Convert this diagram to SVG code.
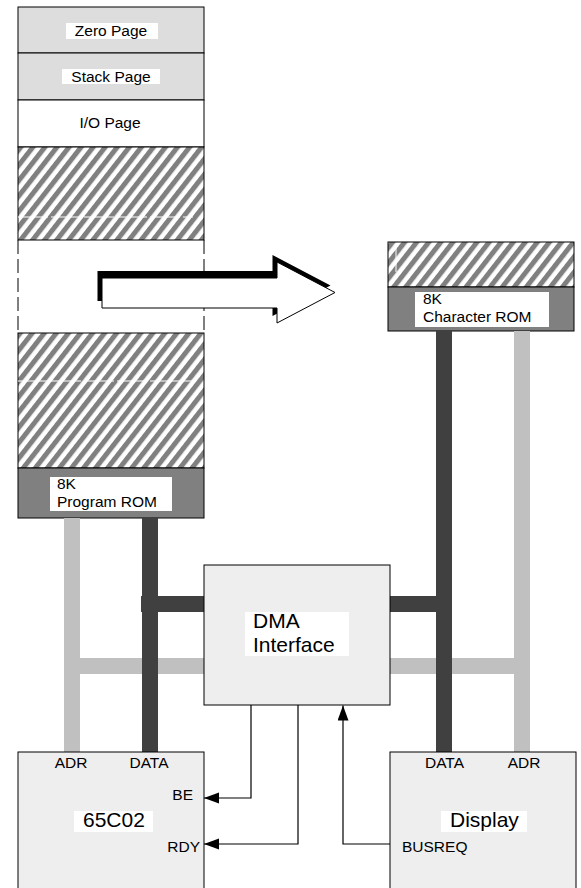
<svg xmlns="http://www.w3.org/2000/svg" width="581" height="888" viewBox="0 0 581 888">
<defs>
  <pattern id="hatch" patternUnits="userSpaceOnUse" width="9.5" height="20" patternTransform="rotate(38)">
    <rect x="0" y="0" width="9.5" height="20" fill="#ffffff"/>
    <rect x="0" y="0" width="5" height="20" fill="#808080"/>
  </pattern>
  <marker id="arr" markerUnits="userSpaceOnUse" markerWidth="16" markerHeight="12" refX="15" refY="5.5" orient="auto">
    <path d="M0,0 L15,5.5 L0,11 Z" fill="#000"/>
  </marker>
</defs>
<style>
  text { font-family: "Liberation Sans", Arial, sans-serif; fill: #000; }
  .s { font-size: 15.5px; }
  .b { font-size: 21px; }
  .box { stroke: #000; stroke-width: 1; }
  .lbl { fill: #fff; }
  .light { fill: #c0c0c0; }
  .dark { fill: #404040; }
  .wire { fill: none; stroke: #000; stroke-width: 1.2; }
</style>

<g id="memory-map">
  <rect class="box" x="18" y="7" width="186" height="46" fill="#dddddd"/>
  <rect class="lbl" x="66" y="23" width="92" height="16"/>
  <text class="s" x="111" y="36" text-anchor="middle">Zero Page</text>
  <rect class="box" x="18" y="53" width="186" height="47" fill="#dddddd"/>
  <rect class="lbl" x="62" y="69" width="98" height="15"/>
  <text class="s" x="111" y="82" text-anchor="middle">Stack Page</text>
  <rect class="box" x="18" y="100" width="186" height="47" fill="#ffffff"/>
  <text class="s" x="110" y="128" text-anchor="middle">I/O Page</text>
  <rect class="box" x="18" y="147" width="186" height="93" fill="url(#hatch)"/>
  <line x1="18" y1="217" x2="193" y2="217" stroke="#fff" stroke-width="1" stroke-dasharray="30 3"/>
  <line x1="18" y1="240" x2="18" y2="333" stroke="#000" stroke-width="1" stroke-dasharray="14 5"/>
  <line x1="204" y1="240" x2="204" y2="333" stroke="#000" stroke-width="1" stroke-dasharray="14 5"/>
  <rect class="box" x="18" y="333" width="186" height="135" fill="url(#hatch)"/>
  <line x1="18" y1="381" x2="193" y2="381" stroke="#fff" stroke-width="1" stroke-dasharray="30 3"/>
  <rect class="box" x="18" y="468" width="186" height="50" fill="#808080"/>
  <rect class="lbl" x="50" y="477" width="122" height="34"/>
  <text class="s" x="57" y="489">8K</text>
  <text class="s" x="57" y="507">Program ROM</text>
</g>

<g id="copy-arrow">
  <path d="M102,278 H277 V262 L335,292.5 L277,323 V308 H102 Z" fill="#000" transform="translate(-4.5,-7)"/>
  <path d="M102,278 H277 V262 L335,292.5 L277,323 V308 H102 Z" fill="#fff" stroke="#000" stroke-width="1"/>
</g>

<g id="character-rom">
  <rect class="box" x="388" y="242" width="186" height="45" fill="url(#hatch)"/>
  <line x1="396" y1="248" x2="396" y2="272" stroke="#fff" stroke-width="1"/>
  <rect class="box" x="388" y="287" width="186" height="44" fill="#808080"/>
  <rect class="lbl" x="415" y="292" width="134" height="35"/>
  <text class="s" x="423" y="304">8K</text>
  <text class="s" x="423" y="322">Character ROM</text>
</g>

<g id="buses">
  <rect class="light" x="64" y="518" width="16" height="234"/>
  <rect class="light" x="80" y="658" width="124" height="16"/>
  <rect class="dark" x="141" y="596" width="63" height="16"/>
  <rect class="dark" x="142" y="518" width="16" height="234"/>
  <rect class="light" x="514" y="331" width="16" height="421"/>
  <rect class="light" x="390" y="658" width="124" height="16"/>
  <rect class="dark" x="390" y="596" width="46" height="16"/>
  <rect class="dark" x="436" y="331" width="16" height="421"/>
</g>

<g id="dma">
  <rect class="box" x="204" y="565" width="186" height="140" fill="#eeeeee"/>
  <rect class="lbl" x="245" y="612" width="104" height="44"/>
  <text class="b" x="253" y="628">DMA</text>
  <text class="b" x="253" y="652">Interface</text>
</g>

<g id="cpu">
  <rect class="box" x="18" y="752" width="186" height="140" fill="#eeeeee"/>
  <text class="s" x="71" y="768" text-anchor="middle">ADR</text>
  <text class="s" x="149" y="768" text-anchor="middle">DATA</text>
  <text class="s" x="193" y="800" text-anchor="end">BE</text>
  <rect class="lbl" x="74" y="811" width="79" height="21"/>
  <text class="b" x="83" y="827">65C02</text>
  <text class="s" x="200" y="852" text-anchor="end">RDY</text>
</g>

<g id="display">
  <rect class="box" x="390" y="752" width="186" height="140" fill="#eeeeee"/>
  <text class="s" x="444.5" y="768" text-anchor="middle">DATA</text>
  <text class="s" x="524" y="768" text-anchor="middle">ADR</text>
  <rect class="lbl" x="441" y="811" width="86" height="21"/>
  <text class="b" x="450" y="827">Display</text>
  <text class="s" x="402" y="852">BUSREQ</text>
</g>

<g id="connectors">
  <polyline class="wire" points="251,705 251,798 204,798" marker-end="url(#arr)"/>
  <polyline class="wire" points="298,705 298,844 204,844" marker-end="url(#arr)"/>
  <polyline class="wire" points="390,844 343,844 343,705.5" marker-end="url(#arr)"/>
</g>
</svg>
